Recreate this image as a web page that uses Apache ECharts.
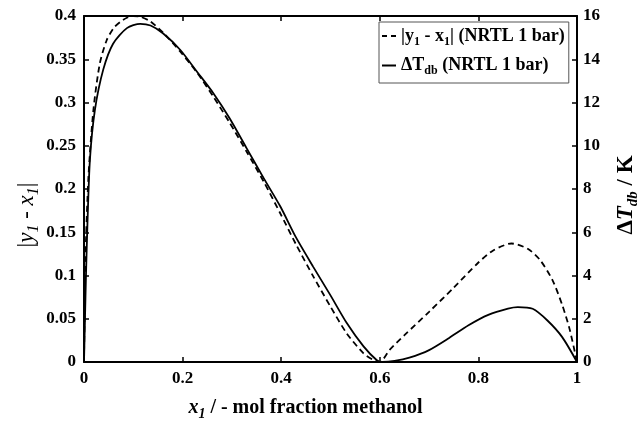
<!DOCTYPE html>
<html>
<head>
<meta charset="utf-8">
<script src="https://cdn.jsdelivr.net/npm/echarts@6/dist/echarts.min.js"></script>
<style>html,body{margin:0;padding:0;background:#fff}#c{width:639px;height:422px}</style>
</head>
<body>
<div id="c"></div>
<script>
// |y1 - x1| (NRTL 1 bar), left axis
const xDash = [0, 0.003, 0.009, 0.019, 0.032, 0.046, 0.06, 0.073, 0.087, 0.1, 0.115, 0.134, 0.16, 0.195, 0.23, 0.262, 0.295, 0.33, 0.365, 0.398, 0.43, 0.465, 0.5, 0.533, 0.567, 0.585, 0.6, 0.62, 0.65, 0.7, 0.75, 0.8, 0.83, 0.867, 0.9, 0.925, 0.95, 0.97, 0.985, 1.0];
const yDash = [0, 0.12, 0.214, 0.291, 0.345, 0.372, 0.386, 0.393, 0.398, 0.400, 0.399, 0.394, 0.381, 0.359, 0.334, 0.307, 0.277, 0.243, 0.208, 0.172, 0.136, 0.099, 0.064, 0.033, 0.010, 0.003, 0, 0.014, 0.031, 0.058, 0.086, 0.115, 0.129, 0.137, 0.131, 0.118, 0.095, 0.066, 0.038, 0];
// Delta T_db (NRTL 1 bar), right axis, K
const xSolid = [0, 0.002, 0.004, 0.007, 0.012, 0.022, 0.039, 0.059, 0.087, 0.114, 0.135, 0.16, 0.195, 0.23, 0.262, 0.295, 0.33, 0.365, 0.398, 0.43, 0.465, 0.5, 0.533, 0.567, 0.594, 0.605, 0.63, 0.66, 0.7, 0.74, 0.78, 0.82, 0.86, 0.88, 0.91, 0.94, 0.97, 1.0];
const ySolid = [0, 2.0, 4.0, 6.4, 9.36, 11.64, 13.52, 14.72, 15.44, 15.64, 15.56, 15.2, 14.44, 13.4, 12.44, 11.28, 9.88, 8.48, 7.2, 5.76, 4.4, 3.08, 1.8, 0.72, 0.08, 0, 0.05, 0.2, 0.55, 1.1, 1.7, 2.18, 2.47, 2.54, 2.46, 1.92, 1.15, 0];
const xTicks = [0, 0.2, 0.4, 0.6, 0.8, 1];
const leftTicks = [0, 0.05, 0.1, 0.15, 0.2, 0.25, 0.3, 0.35, 0.4];
const rightTicks = [0, 2, 4, 6, 8, 10, 12, 14, 16];

const FF = '"Liberation Serif", "Times New Roman", serif';
const zip = (xs, ys) => xs.map((x, i) => [x, ys[i]]);
const chart = echarts.init(document.getElementById('c'));
const lab = {color: '#000', fontFamily: FF, fontWeight: 'bold', fontSize: 17};
const fmt = v => String(+(+v).toFixed(2));
chart.setOption({
  animation: false,
  backgroundColor: '#fff',
  grid: {left: 84, right: 62, top: 16, bottom: 60, containLabel: false, outerBoundsMode: 'none'},
  legend: {
    left: 379, top: 22, orient: 'vertical',
    borderColor: '#555', borderWidth: 1, padding: [5, 4, 6, 3],
    itemWidth: 14, itemHeight: 2, itemGap: 9,
    data: [
      {name: 'dash', icon: 'path://M0,0h5v2h-5z M9,0h5v2h-5z'},
      {name: 'solid', icon: 'path://M0,0h14v2h-14z'}
    ],
    formatter: function (n) {
      if (n === 'dash') return '{b||y}{s|1}{b| - x}{s|1}{b|| (NRTL 1 bar)}';
      return '{b|ΔT}{s|db}{b| (NRTL 1 bar)}';
    },
    textStyle: {
      color: '#000', fontFamily: FF, fontWeight: 'bold', fontSize: 18,
      rich: {
        b: {color: '#000', fontFamily: FF, fontWeight: 'bold', fontSize: 18},
        s: {color: '#000', fontFamily: FF, fontWeight: 'bold', fontSize: 12, padding: [11, 0, 0, 0]}
      }
    }
  },
  xAxis: [{
    type: 'value', min: 0, max: 1, interval: 0.2,
    axisLine: {show: true, onZero: false, lineStyle: {color: '#000', width: 2}},
    axisTick: {show: true, inside: true, length: 5, lineStyle: {color: '#000', width: 1.5}},
    axisLabel: Object.assign({margin: 8, formatter: fmt}, lab),
    splitLine: {show: false},
    name: '{i|x}{is|1}{n| / - mol fraction methanol}',
    nameLocation: 'middle', nameGap: 32,
    nameTextStyle: {
      padding: [0, 50, 0, 0],
      rich: {
        i: {fontFamily: FF, fontStyle: 'italic', fontWeight: 'bold', fontSize: 20, color: '#000'},
        is: {fontFamily: FF, fontStyle: 'italic', fontWeight: 'bold', fontSize: 14, color: '#000', padding: [13, 0, 0, 0]},
        n: {fontFamily: FF, fontWeight: 'bold', fontSize: 20, color: '#000'}
      }
    }
  }, {
    type: 'value', min: 0, max: 1, interval: 0.2, position: 'top',
    axisLine: {show: true, onZero: false, lineStyle: {color: '#000', width: 2}},
    axisTick: {show: true, inside: true, length: 5, lineStyle: {color: '#000', width: 1.5}},
    axisLabel: {show: false}, splitLine: {show: false}
  }],
  yAxis: [{
    type: 'value', min: 0, max: 0.4, interval: 0.05, position: 'left',
    axisLine: {show: true, onZero: false, lineStyle: {color: '#000', width: 2}},
    axisTick: {show: true, inside: true, length: 5, lineStyle: {color: '#000', width: 1.5}},
    axisLabel: Object.assign({margin: 8, formatter: fmt}, lab),
    splitLine: {show: false},
    name: '{n||}{i|y}{is|1}{n| - }{i|x}{is|1}{n||}',
    nameLocation: 'middle', nameGap: 42, nameRotate: 90, nameMoveOverlap: false,
    nameTextStyle: {
      padding: [0, 52, 0, 0],
      rich: {
        i: {fontFamily: FF, fontStyle: 'italic', fontSize: 23, color: '#000'},
        is: {fontFamily: FF, fontStyle: 'italic', fontSize: 16, color: '#000', padding: [14, 0, 0, 0]},
        n: {fontFamily: FF, fontSize: 23, color: '#000'}
      }
    }
  }, {
    type: 'value', min: 0, max: 16, interval: 2, position: 'right',
    axisLine: {show: true, onZero: false, lineStyle: {color: '#000', width: 2}},
    axisTick: {show: true, inside: true, length: 5, lineStyle: {color: '#000', width: 1.5}},
    axisLabel: Object.assign({margin: 6}, lab),
    splitLine: {show: false},
    name: '{b|Δ}{bi|T}{bis|db}{b| / K}',
    nameLocation: 'middle', nameGap: 35, nameRotate: 90,
    nameTextStyle: {
      padding: [0, 12, 0, 0],
      rich: {
        b: {fontFamily: FF, fontWeight: 'bold', fontSize: 23, color: '#000'},
        bi: {fontFamily: FF, fontWeight: 'bold', fontStyle: 'italic', fontSize: 23, color: '#000'},
        bis: {fontFamily: FF, fontWeight: 'bold', fontStyle: 'italic', fontSize: 15, color: '#000', padding: [14, 0, 0, 0]}
      }
    }
  }],
  series: [{
    name: 'dash', type: 'line', xAxisIndex: 0, yAxisIndex: 0,
    data: zip(xDash, yDash), symbol: 'none', smooth: 0.25,
    lineStyle: {color: '#000', width: 1.8, type: [6, 4]}, itemStyle: {color: '#000'}
  }, {
    name: 'solid', type: 'line', xAxisIndex: 0, yAxisIndex: 1,
    data: zip(xSolid, ySolid), symbol: 'none', smooth: 0.25,
    lineStyle: {color: '#000', width: 1.8}, itemStyle: {color: '#000'}
  }]
});
</script>
</body>
</html>
